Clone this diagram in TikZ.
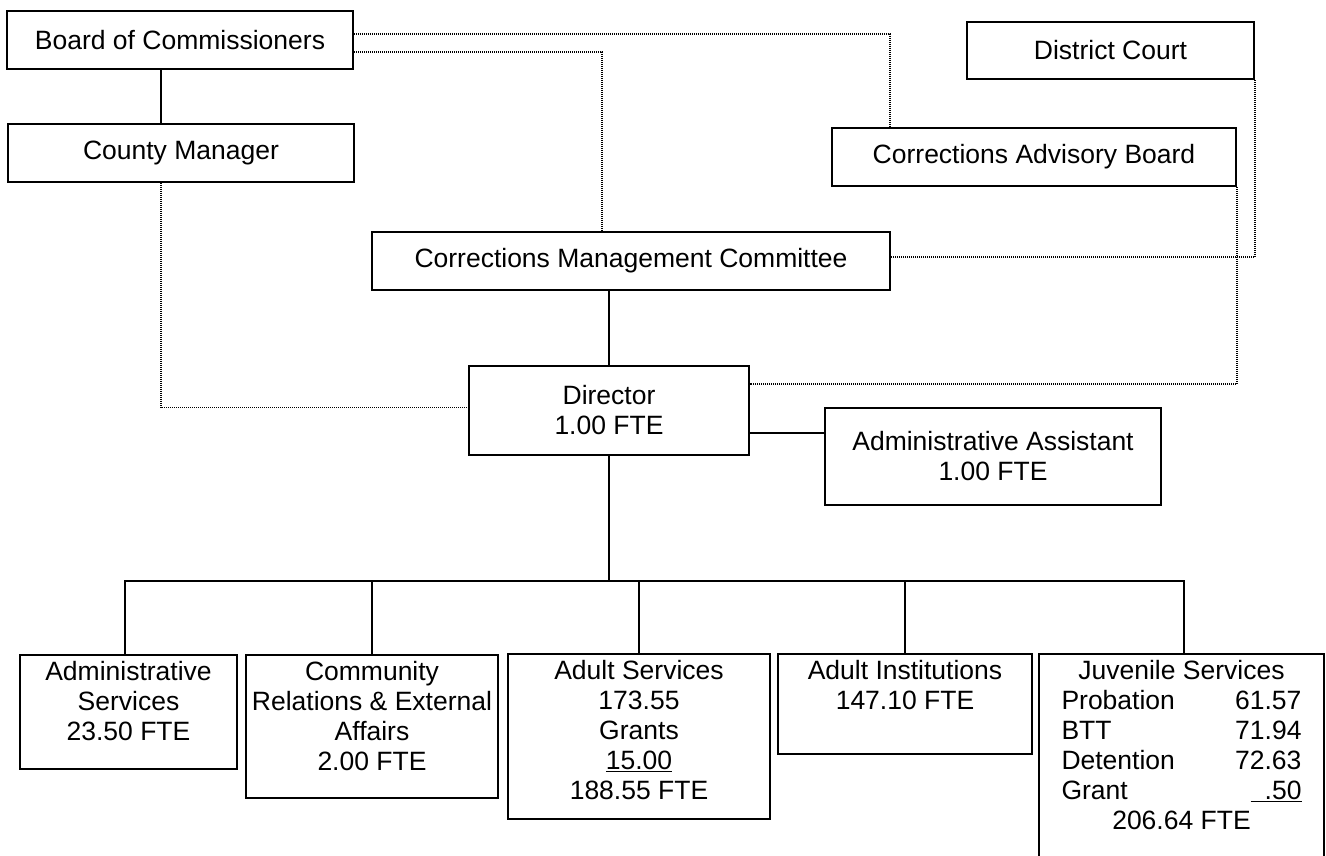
\documentclass[tikz,border=0pt]{standalone}
\usepackage{fontspec}
\setmainfont{Liberation Sans}
\usepackage{tikz}
\tikzstyle{unit} = [draw, line width=1.6pt, align=center, inner xsep=2pt]
\tikzstyle{unittop} = [unit, anchor=north, inner ysep=0pt]
\tikzstyle{link} = [draw, line width=1.6pt]
\tikzstyle{dotlink} = [draw, line width=1.6pt, dash pattern=on 1pt off 1pt]

\begin{document}
\begin{tikzpicture}[x=1pt, y=-1pt, every node/.style={font=\fontsize{26.5}{30}\selectfont}]
\clip (0,0) rectangle (1326,855);
%% Top
\node[unit, minimum width=346pt, minimum height=58pt] (boc) at (180, 40) {Board of Commissioners};
\node[unit, minimum width=287pt, minimum height=57pt] (court) at (1110.5, 50.5) {District Court};
\node[unit, minimum width=346pt, minimum height=58pt] (mgr) at (181, 153) {County Manager};
\node[unit, minimum width=404pt, minimum height=58pt] (cab) at (1034, 157) {Corrections Advisory Board};
\node[unit, minimum width=518pt, minimum height=58pt] (cmc) at (631, 261) {Corrections Management Committee};
\node[unit, minimum width=280pt, minimum height=89pt] (dir) at (609, 410.5) {Director\\1.00 FTE};
\node[unit, minimum width=336pt, minimum height=97pt] (asst) at (993, 456.5) {Administrative Assistant\\1.00 FTE};

%% Divisions
\node[unittop, minimum width=217pt, text height=86pt, text depth=28pt] (adm) at (128.5, 654) {Administrative\\Services\\23.50 FTE};
\node[unittop, minimum width=252pt, text height=116pt, text depth=27pt] (comm) at (372, 654) {Community\\Relations \& External\\Affairs\\2.00 FTE};
\node[unittop, minimum width=262pt, text height=146pt, text depth=19pt] (adult) at (639, 653) {Adult Services\\173.55\\Grants\\\underline{15.00}\\188.55 FTE};
\node[unittop, minimum width=254pt, text height=56pt, text depth=44pt] (inst) at (905, 653) {Adult Institutions\\147.10 FTE};
\node[unittop, minimum width=285pt, text height=26pt, text depth=201pt] (juv) at (1181.5, 653) {%
    \begin{tabular*}{240pt}[t]{@{}l@{\extracolsep{\fill}}r@{}}
    \multicolumn{2}{@{}c@{}}{Juvenile Services}\\
    Probation & 61.57\\
    BTT & 71.94\\
    Detention & 72.63\\
    Grant & \underline{\hspace{14pt}.50}\\
    \multicolumn{2}{@{}c@{}}{206.64 FTE}
    \end{tabular*}};

%% Solid lines
\draw[link] ([xshift=-19pt]boc.south) -- ([xshift=-20pt]mgr.north);
\draw[link] (dir.north) -- (dir.north |- cmc.south);
\draw[link] ([yshift=-22.5pt]dir.east) -- ([yshift=23.5pt]asst.west);
\coordinate (bus) at (609, 581);
\draw[link] (dir.south) -- (bus);
\draw[link] ([xshift=-3.5pt]adm.north) |- (bus) -| ([xshift=2.5pt]juv.north);
\draw[link] (comm.north) -- (comm.north |- bus);
\draw[link] (adult.north) -- (adult.north |- bus);
\draw[link] (inst.north) -- (inst.north |- bus);

%% Dotted lines
\draw[dotlink] ([yshift=6pt]boc.east) -| ([xshift=-144pt]cab.north);
\draw[dotlink] ([yshift=-12pt]boc.east) -| ([xshift=-29pt]cmc.north);
\draw[dotlink] ([xshift=-20pt]mgr.south) |- ([yshift=3pt]dir.west);
\draw[dotlink] (court.south east) |- ([yshift=4pt]cmc.east);
\draw[dotlink] (cab.south east) |- ([yshift=26.5pt]dir.east);
\end{tikzpicture}
\end{document}
